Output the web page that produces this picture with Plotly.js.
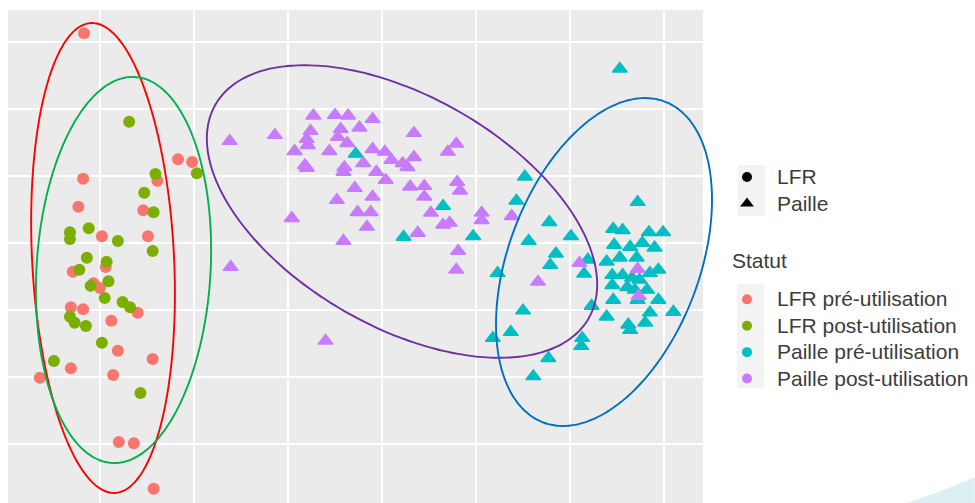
<!DOCTYPE html>
<html>
<head>
<meta charset="utf-8">
<script src="https://cdn.plot.ly/plotly-3.0.1.min.js"></script>
<style>html,body{margin:0;padding:0;background:#fff;}#chart{width:975px;height:503px;}</style>
</head>
<body>
<div id="chart"></div>
<script>
// ---- Data (PCA-like coordinates) ----
const statutNames = ['LFR pré-utilisation', 'LFR post-utilisation', 'Paille pré-utilisation', 'Paille post-utilisation'];
const statutColors = ['#F8766D', '#7CAE00', '#00BFC4', '#C77CFF'];
const typeNames = ['LFR', 'Paille'];

const lfrPreX = [-3.17, -2.17, -2.02, -3.18, -2.39, -3.23, -2.54, -2.98, -2.49, -3.29, -2.94, -3.07, -3.00, -3.31, -3.18, -2.60, -2.88, -2.81, -2.44, -3.31, -3.64, -2.86, -2.80, -2.64, -2.43];
const lfrPreY = [3.13, 1.25, 1.21, 0.96, 0.93, 0.54, 0.49, 0.10, 0.10, -0.43, -0.36, -0.60, -0.67, -0.96, -0.99, -1.04, -1.16, -1.61, -1.73, -1.87, -2.01, -1.97, -2.97, -2.99, -3.67];

const lfrPostX = [-2.69, -2.41, -1.97, -2.53, -2.43, -3.12, -3.32, -3.32, -2.81, -2.44, -3.14, -2.93, -3.22, -2.91, -3.10, -2.95, -2.76, -2.68, -3.32, -3.27, -3.15, -2.98, -3.49, -2.57];
const lfrPostY = [1.81, 1.03, 1.04, 0.75, 0.46, 0.22, 0.16, 0.06, 0.03, -0.12, -0.22, -0.28, -0.40, -0.57, -0.64, -0.82, -0.88, -0.96, -1.10, -1.19, -1.24, -1.49, -1.76, -2.24];

const paillePreX = [-0.28, 0.65, 0.23, 0.97, 1.23, 1.18, 2.53, 1.52, 1.43, 1.78, 1.56, 2.01, 1.85, 1.79, 2.15, 2.19, 2.23, 1.50, 1.37, 2.13, 2.12, 1.77, 1.61,
  2.72, 2.46, 2.56, 2.84, 2.99, 2.47, 2.64, 2.77, 2.90, 2.39, 2.53, 2.71, 2.94, 2.85, 2.45, 2.56, 2.66, 2.45, 2.61, 2.74, 2.82, 2.69, 2.46, 2.72, 2.94, 3.10, 2.85, 2.39, 2.80, 2.62, 2.64];
const paillePreY = [1.33, 0.55, 0.09, 0.10, -0.45, -1.42, 2.60, 0.99, 0.63, 0.31, 0.03, 0.10, -0.16, -0.33, -0.46, -0.25, -0.94, -1.01, -1.33, -1.42, -1.54, -1.72, -1.99,
  0.61, 0.21, 0.19, 0.16, 0.16, -0.03, -0.06, 0.00, -0.07, -0.28, -0.22, -0.22, -0.40, -0.45, -0.48, -0.48, -0.52, -0.63, -0.66, -0.55, -0.70, -0.70, -0.85, -0.85, -0.85, -1.03, -1.04, -1.10, -1.19, -1.22, -1.30];

const paillePostX = [-1.62, -1.14, -0.73, -0.50, -0.36, -0.10, -0.76, -0.44, -0.24, 0.34, -0.80, -0.79, -0.47, -0.37, -0.93, -0.56, -0.10, 0.03, 0.10, 0.22, 0.27, 0.34, 0.79, 0.70,
  -0.82, -0.80, -0.40, -0.41, -0.20, -0.06, 0.04, -0.29, 0.30, 0.45, 0.80, 0.83, -0.48, -0.10, 0.45, -0.26, -0.12, 0.52, -0.16, -0.96, 0.65, 0.72, 1.06, 1.06, 0.38, -0.41,
  0.81, 0.79, -1.61, -0.60, 1.38, 2.10, 1.66, 2.72, 2.73];
const paillePostY = [1.52, 1.61, 1.90, 1.91, 1.90, 1.85, 1.67, 1.70, 1.72, 1.64, 1.55, 1.46, 1.58, 1.49, 1.37, 1.37, 1.40, 1.36, 1.24, 1.19, 1.13, 1.28, 1.48, 1.36,
  1.16, 1.12, 1.13, 1.06, 1.19, 1.06, 0.94, 0.82, 0.84, 0.85, 0.91, 0.78, 0.64, 0.69, 0.69, 0.46, 0.46, 0.45, 0.24, 0.37, 0.27, 0.30, 0.45, 0.34, 0.15, 0.03,
  -0.12, -0.40, -0.36, -1.46, 0.40, -0.30, -0.58, -0.39, -0.79];

// Hand-drawn ellipses: centre and two conjugate semi-diameters (data units)
const ellipseColors = ['#FF0000', '#00B050', '#7030A0', '#0070C0'];
const ellipseCX = [-2.968, -2.750, 0.213, 2.362];
const ellipseCY = [-0.224, -0.403, 0.470, -0.284];
const ellipseAX = [0.128, 0.122, 1.985, 1.149];
const ellipseAY = [-3.507, 2.881, -1.596, 0.930];
const ellipseBX = [0.754, 0.924, -0.609, 0.0];
const ellipseBY = [0.054, -0.078, -1.490, -2.264];

// ---- Layout constants ----
const xRange = [-3.979, 3.596];
const yRange = [-3.881, 3.478];
const panelRight = 3.415;

const seriesX = [lfrPreX, lfrPostX, paillePreX, paillePostX];
const seriesY = [lfrPreY, lfrPostY, paillePreY, paillePostY];
const seriesSymbol = ['circle', 'circle', 'triangle-up', 'triangle-up'];

const traces = [];
for (let i = 0; i < 4; i++) {
  const tri = seriesSymbol[i] === 'triangle-up';
  traces.push({
    type: 'scatter', mode: 'markers', x: seriesX[i], y: seriesY[i], name: statutNames[i],
    showlegend: false, hoverinfo: 'skip',
    marker: {color: statutColors[i], symbol: seriesSymbol[i], size: tri ? 13 : 12,
      line: {color: statutColors[i], width: tri ? 1.4 : 0}}
  });
}
for (let e = 0; e < ellipseCX.length; e++) {
  const ex = [], ey = [];
  for (let k = 0; k <= 160; k++) {
    const t = 2 * Math.PI * k / 160;
    ex.push(ellipseCX[e] + ellipseAX[e] * Math.cos(t) + ellipseBX[e] * Math.sin(t));
    ey.push(ellipseCY[e] + ellipseAY[e] * Math.cos(t) + ellipseBY[e] * Math.sin(t));
  }
  traces.push({type: 'scatter', mode: 'lines', x: ex, y: ey, showlegend: false, hoverinfo: 'skip',
    line: {color: ellipseColors[e], width: 1.9, shape: 'spline'}});
}
const big = s => '<span style="font-size:21px">' + s + '</span>';
// legend-only entries: shape legend
const typeSymbols = ['circle', 'triangle-up'];
for (let i = 0; i < typeNames.length; i++) {
  traces.push({type: 'scatter', mode: 'markers', x: [null], y: [null], name: big(typeNames[i]), legend: 'legend',
    marker: {color: '#000000', symbol: typeSymbols[i], size: i === 0 ? 10 : 12}});
}
// legend-only entries: colour legend
for (let i = 0; i < statutNames.length; i++) {
  traces.push({type: 'scatter', mode: 'markers', x: [null], y: [null], name: big(statutNames[i]), legend: 'legend2',
    marker: {color: statutColors[i], symbol: 'circle', size: 10}});
}

const legendFont = {family: 'Liberation Sans, Arial, sans-serif', size: 18, color: '#3c3c3c'};
const layout = {
  width: 975, height: 503,
  margin: {l: 8, r: 255, t: 10, b: 0, pad: 0},
  paper_bgcolor: '#ffffff', plot_bgcolor: '#ffffff',
  showlegend: true,
  xaxis: {range: xRange, showticklabels: false, ticks: '', tick0: 0, dtick: 1, showgrid: true,
    gridcolor: '#ffffff', gridwidth: 1.6, zeroline: false, showline: false, fixedrange: true},
  yaxis: {range: yRange, showticklabels: false, ticks: '', tick0: 0, dtick: 1, showgrid: true,
    gridcolor: '#ffffff', gridwidth: 1.6, zeroline: false, showline: false, fixedrange: true},
  shapes: [
    {type: 'rect', layer: 'below', xref: 'x', yref: 'paper', x0: xRange[0], x1: panelRight, y0: 0, y1: 1,
      fillcolor: '#EBEBEB', line: {width: 0}},
    {type: 'rect', layer: 'below', xref: 'paper', yref: 'paper', x0: 1.0253, x1: 1.0632, y0: 0.5822, y1: 0.6856,
      fillcolor: '#F3F3F3', line: {width: 0}},
    {type: 'rect', layer: 'below', xref: 'paper', yref: 'paper', x0: 1.0239, x1: 1.0618, y0: 0.2333, y1: 0.4442,
      fillcolor: '#F3F3F3', line: {width: 0}},
    {type: 'path', layer: 'below', xref: 'paper', yref: 'paper',
      path: 'M 1.262 0 Q 1.31 0.022 1.358 0.052 L 1.358 0 Z', fillcolor: '#DCEFF3', line: {width: 0}}
  ],
  legend: {x: 0.9958, xanchor: 'left', y: 0.698, yanchor: 'top', itemwidth: 50, font: legendFont,
    bgcolor: 'rgba(0,0,0,0)', borderwidth: 0, itemclick: false, itemdoubleclick: false},
  legend2: {x: 0.9958, xanchor: 'left', y: 0.450, yanchor: 'top', itemwidth: 50, font: legendFont,
    bgcolor: 'rgba(0,0,0,0)', borderwidth: 0, itemclick: false, itemdoubleclick: false},
  annotations: [
    {text: 'Statut', xref: 'paper', yref: 'paper', x: 1.0140, y: 0.4929, xanchor: 'left', yanchor: 'middle',
      showarrow: false, font: {family: legendFont.family, size: 21, color: legendFont.color}}
  ]
};

Plotly.newPlot('chart', traces, layout, {displayModeBar: false, staticPlot: true});
</script>
</body>
</html>
